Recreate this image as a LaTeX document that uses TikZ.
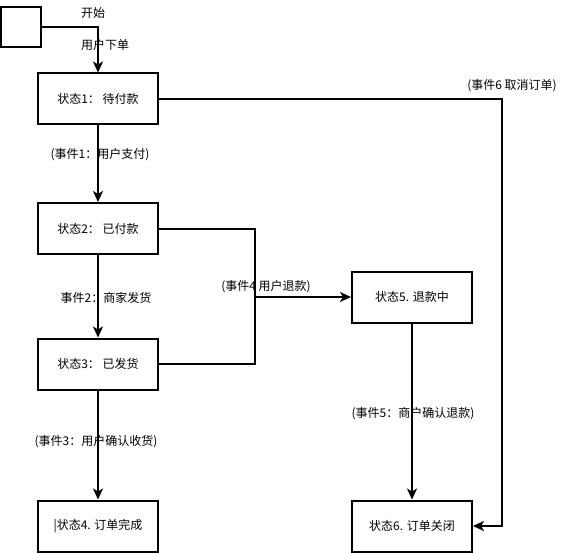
\documentclass[tikz,border=0pt]{standalone}
\usepackage{fontspec}
\setmainfont{Noto Sans CJK SC}
\usetikzlibrary{arrows.meta}
\tikzset{
  statebox/.style={draw=black, line width=2pt, minimum width=120pt, minimum height=51pt, inner sep=0pt, font=\fontsize{12pt}{14pt}\selectfont},
  startbox/.style={draw=black, line width=2pt, minimum width=40pt, minimum height=40pt, inner sep=0pt},
  conn/.style={line width=2pt, draw=black},
  arr/.style={conn, -{Stealth[length=11pt,width=10pt,inset=3pt]}},
  lbl/.style={inner sep=0pt, font=\fontsize{12pt}{14pt}\selectfont}
}
\begin{document}
\begin{tikzpicture}[x=1pt,y=-1pt]
\useasboundingbox (0,0) rectangle (572,553);
\node[startbox] (st) at (21,27) {};
\node[statebox] (s1) at (98,99) {状态1： 待付款};
\node[statebox] (s2) at (98,228.5) {状态2： 已付款};
\node[statebox] (s3) at (98,364) {状态3： 已发货};
\node[statebox] (s4) at (98,526) {|状态4. 订单完成};
\node[statebox] (s5) at (412,297) {状态5. 退款中};
\node[statebox] (s6) at (412,526) {状态6. 订单关闭};
\coordinate (j) at (255,297);
\coordinate (c6) at (502,99);
\draw[arr] (st.east) -| (s1.north);
\draw[arr] (s1.south) -- (s2.north);
\draw[arr] (s2.south) -- (s3.north);
\draw[arr] (s3.south) -- (s4.north);
\draw[conn] (s2.east) -| (j) |- (s3.east);
\draw[arr] (j) -- (s5.west);
\draw[arr] (s5.south) -- (s6.north);
\draw[arr] (s1.east) -- (c6) |- (s6.east);
\node[lbl] (l0) at (93,13) {开始};
\node[lbl] (l00) at (105,45) {用户下单};
\node[lbl] (l1) at (100,155) {(事件1：用户支付)};
\node[lbl] (l2) at (106,298) {事件2：商家发货};
\node[lbl] (l3) at (96,442) {(事件3：用户确认收货)};
\node[lbl] (l4) at (266,287) {(事件4 用户退款)};
\node[lbl] (l5) at (413,414) {(事件5：商户确认退款)};
\node[lbl] (l6) at (512,86) {(事件6 取消订单)};
\end{tikzpicture}
\end{document}
